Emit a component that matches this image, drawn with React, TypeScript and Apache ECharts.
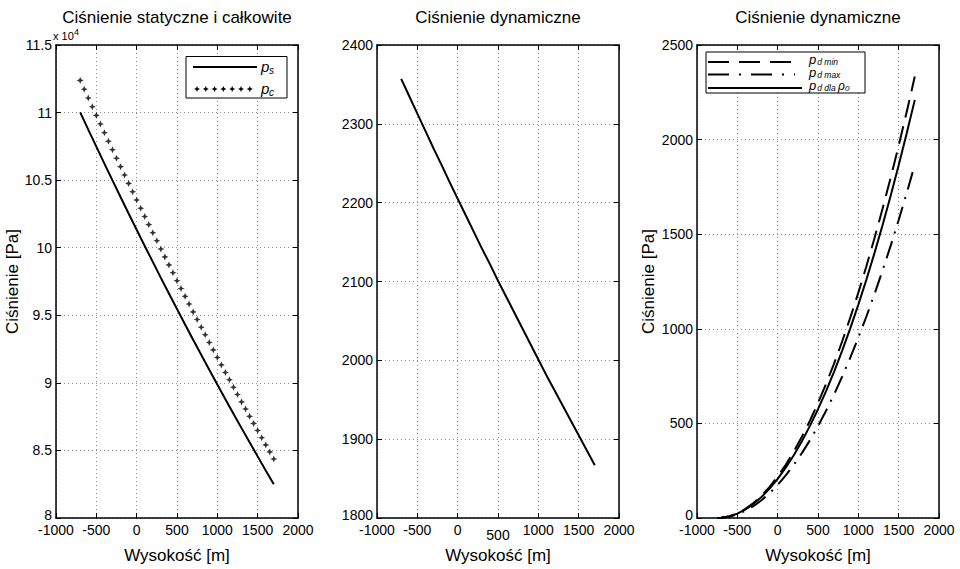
import React, { useEffect, useRef } from "react";
import * as echarts from "echarts";

// ---------- data ----------
const H = [-700, -600, -500, -400, -300, -200, -100, 0, 100, 200, 300, 400, 500, 600, 700, 800, 900, 1000, 1100, 1200, 1300, 1400, 1500, 1600, 1700];
// static pressure p_s (x 10^4 Pa)
const psE4 = [11.002, 10.874, 10.748, 10.622, 10.498, 10.375, 10.253, 10.133, 10.013, 9.895, 9.777, 9.661, 9.546, 9.432, 9.319, 9.208, 9.097, 8.988, 8.879, 8.772, 8.665, 8.56, 8.456, 8.352, 8.25];
// total pressure p_c (x 10^4 Pa), marker every 50 m
const H50 = [-700, -650, -600, -550, -500, -450, -400, -350, -300, -250, -200, -150, -100, -50, 0, 50, 100, 150, 200, 250, 300, 350, 400, 450, 500, 550, 600, 650, 700, 750, 800, 850, 900, 950, 1000, 1050, 1100, 1150, 1200, 1250, 1300, 1350, 1400, 1450, 1500, 1550, 1600, 1650, 1700];
const pcE4 = [11.238, 11.173, 11.108, 11.043, 10.979, 10.915, 10.851, 10.788, 10.725, 10.662, 10.6, 10.538, 10.476, 10.414, 10.353, 10.292, 10.231, 10.171, 10.111, 10.051, 9.991, 9.932, 9.873, 9.815, 9.756, 9.698, 9.64, 9.583, 9.525, 9.469, 9.412, 9.356, 9.299, 9.244, 9.188, 9.133, 9.077, 9.023, 8.968, 8.914, 8.859, 8.806, 8.752, 8.7, 8.647, 8.594, 8.541, 8.489, 8.437];
// dynamic pressure (Pa)
const pd = [2357, 2335, 2313, 2291, 2269, 2248, 2226, 2205, 2184, 2163, 2142, 2122, 2101, 2081, 2061, 2041, 2021, 2001, 1981, 1962, 1943, 1924, 1905, 1886, 1867];
// third panel
const H3 = [-750, -700, -600, -500, -400, -300, -200, -100, 0, 100, 200, 300, 400, 500, 600, 700, 800, 900, 1000, 1100, 1200, 1300, 1400, 1500, 1600, 1700];
const pdMin = [0, 1, 9, 24, 48, 79, 118, 164, 219, 281, 351, 429, 514, 608, 709, 817, 934, 1059, 1191, 1331, 1479, 1634, 1797, 1968, 2147, 2334];
const pdMax = [0, 1, 7, 19, 38, 63, 94, 131, 175, 225, 281, 343, 411, 486, 567, 654, 748, 847, 953, 1065, 1183, 1308, 1438, 1575, 1718, 1868];
const pdRho0 = [0, 1, 8, 23, 45, 75, 111, 156, 207, 266, 332, 406, 487, 575, 671, 774, 885, 1002, 1128, 1260, 1400, 1547, 1702, 1864, 2033, 2210];

const TITLES = ["Ciśnienie statyczne i całkowite", "Ciśnienie dynamiczne", "Ciśnienie dynamiczne"];
const X_NAME = "Wysokość [m]";
const Y_NAME = "Ciśnienie [Pa]";
const X_RANGE = { min: -1000, max: 2000, interval: 500 };
const Y_RANGES = [
  { min: 8, max: 11.5, interval: 0.5 },
  { min: 1800, max: 2400, interval: 100 },
  { min: 0, max: 2500, interval: 500 },
];

// ---------- layout ----------
const FONT = "'Liberation Sans', Arial, Helvetica, sans-serif";
const GRID_LEFT = [56, 377, 697];
const GRID_TOP = 45;
const GRID_W = 242;
const GRID_H = 474;

const pairs = (xs: number[], ys: number[]) => xs.map((x, i) => [x, ys[i]]);

const STAR = "path://M0,-3L0.9,-0.9L3,0L0.9,0.9L0,3L-0.9,0.9L-3,0L-0.9,-0.9Z";

function plusMarks(x0: number, y: number, n: number, step: number) {
  const els: any[] = [];
  for (let k = 0; k < n; k++) {
    const x = x0 + k * step;
    els.push({
      type: "polygon",
      shape: { points: [[x, y - 3], [x + 0.9, y - 0.9], [x + 3, y], [x + 0.9, y + 0.9], [x, y + 3], [x - 0.9, y + 0.9], [x - 3, y], [x - 0.9, y - 0.9]] },
      style: { fill: "#000" },
      z: 101,
    });
  }
  return els;
}

function txt(x: number, y: number, text: string, size: number, italic = true) {
  return {
    type: "text",
    x,
    y,
    z: 101,
    style: {
      text,
      fontSize: size,
      lineHeight: Math.round(size * 0.85),
      fontFamily: FONT,
      fontStyle: italic ? "italic" : "normal",
      fill: "#000",
      verticalAlign: "middle",
      align: "left",
    },
  };
}

const LEG3_RICH = {
  p: { fontSize: 13, fontStyle: "italic", fontFamily: FONT, fill: "#000", lineHeight: 13, verticalAlign: "middle" },
  s: { fontSize: 8.5, fontStyle: "italic", fontFamily: FONT, fill: "#000", lineHeight: 13, verticalAlign: "bottom", padding: [0, 0, 0, 1] },
  r: { fontSize: 12, fontStyle: "italic", fontFamily: FONT, fill: "#000", lineHeight: 13, verticalAlign: "bottom" },
  z: { fontSize: 8, fontStyle: "italic", fontFamily: FONT, fill: "#000", lineHeight: 13, verticalAlign: "bottom" },
};

export default function App() {
  const ref = useRef<HTMLDivElement>(null);

  useEffect(() => {
    if (!ref.current) return;
    const chart = echarts.init(ref.current, undefined, { renderer: "svg" });

    const grids = GRID_LEFT.map((left) => ({
      left,
      top: GRID_TOP,
      width: GRID_W,
      height: GRID_H,
      show: false,
      containLabel: false,
    }));

    const frame = { show: true, onZero: false, lineStyle: { color: "#000", width: 1.5 } };
    const tick = { show: true, inside: true, length: 5, lineStyle: { color: "#000", width: 1 } };
    const gridLine = { show: true, lineStyle: { color: "#8a8a8a", width: 1, type: [1, 3] as any } };

    const xAxes: any[] = [];
    const yAxes: any[] = [];
    for (let i = 0; i < 3; i++) {
      xAxes.push({
        gridIndex: i,
        type: "value",
        position: "bottom",
        ...X_RANGE,
        axisLine: frame,
        axisTick: tick,
        splitLine: gridLine,
        axisLabel: {
          color: "#000",
          fontSize: 14,
          fontFamily: FONT,
          margin: 5,
          formatter: (v: number) => (i === 1 && v === 500 ? "{lo|500}" : String(v)),
          rich: { lo: { fontSize: 14, fontFamily: FONT, color: "#000", padding: [5, 0, 0, 0] } },
        },
        name: X_NAME,
        nameLocation: "middle",
        nameGap: 29,
        nameTextStyle: { color: "#000", fontSize: 17, fontFamily: FONT },
      });
      const yMin = Y_RANGES[i].min;
      yAxes.push({
        gridIndex: i,
        type: "value",
        position: "left",
        ...Y_RANGES[i],
        axisLine: frame,
        axisTick: tick,
        splitLine: gridLine,
        axisLabel: {
          color: "#000",
          fontSize: 14,
          fontFamily: FONT,
          margin: 4,
          formatter: (v: number) => (v === yMin ? "{up|" + v + "}" : String(v)),
          rich: { up: { fontSize: 14, fontFamily: FONT, color: "#000", padding: [0, 0, 7, 0] } },
        },
        name: i === 1 ? "" : Y_NAME,
        nameLocation: "middle",
        nameGap: i === 0 ? 34 : 40,
        nameTextStyle: { color: "#000", fontSize: 17, fontFamily: FONT },
      });
    }
    for (let i = 0; i < 3; i++) {
      xAxes.push({
        gridIndex: i,
        type: "value",
        position: "top",
        ...X_RANGE,
        axisLine: frame,
        axisTick: tick,
        splitLine: { show: false },
        axisLabel: { show: false },
      });
      yAxes.push({
        gridIndex: i,
        type: "value",
        position: "right",
        ...Y_RANGES[i],
        axisLine: frame,
        axisTick: tick,
        splitLine: { show: false },
        axisLabel: { show: false },
      });
    }

    const lineSeries = (name: string, idx: number, data: number[][], type: any, width = 2) => ({
      name,
      type: "line",
      xAxisIndex: idx,
      yAxisIndex: idx,
      data,
      showSymbol: false,
      symbol: "none",
      lineStyle: { color: "#000", width, type },
      z: 5,
    });

    const graphic: any[] = [
      // x 10^4 multiplier
      { type: "text", x: 53, y: 36, style: { text: "x 10", fontSize: 11, fontFamily: FONT, fill: "#000", verticalAlign: "middle" } },
      { type: "text", x: 74, y: 32, style: { text: "4", fontSize: 9, fontFamily: FONT, fill: "#000", verticalAlign: "middle" } },
      // legend 1
      { type: "rect", shape: { x: 186, y: 56.5, width: 101, height: 41.5 }, style: { fill: "#fff", stroke: "#000", lineWidth: 1 }, z: 100 },
      { type: "line", shape: { x1: 193, y1: 67, x2: 257, y2: 67 }, style: { stroke: "#000", lineWidth: 2 }, z: 101 },
      txt(261, 66, "p", 15),
      txt(269, 70, "s", 10),
      ...plusMarks(197, 89, 7, 8.8),
      txt(261, 88, "p", 15),
      txt(269, 92, "c", 10),
      // legend 3
      { type: "rect", shape: { x: 706, y: 52, width: 159, height: 41 }, style: { fill: "#fff", stroke: "#000", lineWidth: 1 }, z: 100 },
      { type: "line", shape: { x1: 708, y1: 62, x2: 795, y2: 62 }, style: { stroke: "#000", lineWidth: 2, lineDash: [21, 10] }, z: 101 },
      { type: "line", shape: { x1: 708, y1: 74.5, x2: 795, y2: 74.5 }, style: { stroke: "#000", lineWidth: 2, lineDash: [21, 10, 2, 10] }, z: 101 },
      { type: "line", shape: { x1: 708, y1: 88, x2: 802, y2: 88 }, style: { stroke: "#000", lineWidth: 2 }, z: 101 },
      {
        type: "text",
        x: 809,
        y: 53,
        z: 101,
        style: {
          text: "{p|p}{s|d min}\n{p|p}{s|d max}\n{p|p}{s|d dla }{r|ρ}{z|0}",
          rich: LEG3_RICH,
          fontSize: 13,
          lineHeight: 13,
          fontFamily: FONT,
          fill: "#000",
          align: "left",
          verticalAlign: "top",
        },
      },
    ];

    const option: any = {
      animation: false,
      backgroundColor: "#fff",
      title: TITLES.map((t, i) => ({
        text: t,
        left: GRID_LEFT[i] + GRID_W / 2,
        top: 9,
        padding: 0,
        textAlign: "center",
        textStyle: { color: "#000", fontSize: 17, fontWeight: "normal", fontFamily: FONT },
      })),
      grid: grids,
      xAxis: xAxes,
      yAxis: yAxes,
      series: [
        lineSeries("p_s", 0, pairs(H, psE4), "solid"),
        {
          name: "p_c",
          type: "scatter",
          xAxisIndex: 0,
          yAxisIndex: 0,
          data: pairs(H50, pcE4),
          symbol: STAR,
          symbolSize: 7,
          itemStyle: { color: "#000" },
          z: 5,
        },
        lineSeries("p_d", 1, pairs(H, pd), "solid"),
        lineSeries("p_d min", 2, pairs(H3, pdMin), [18, 9]),
        lineSeries("p_d max", 2, pairs(H3, pdMax), [18, 8, 2, 8]),
        lineSeries("p_d dla rho0", 2, pairs(H3, pdRho0), "solid"),
      ],
      graphic,
    };

    chart.setOption(option);
    return () => chart.dispose();
  }, []);

  return (
    <div
      ref={ref}
      style={{ position: "fixed", left: 0, top: 0, width: 960, height: 569, background: "#fff" }}
    />
  );
}
